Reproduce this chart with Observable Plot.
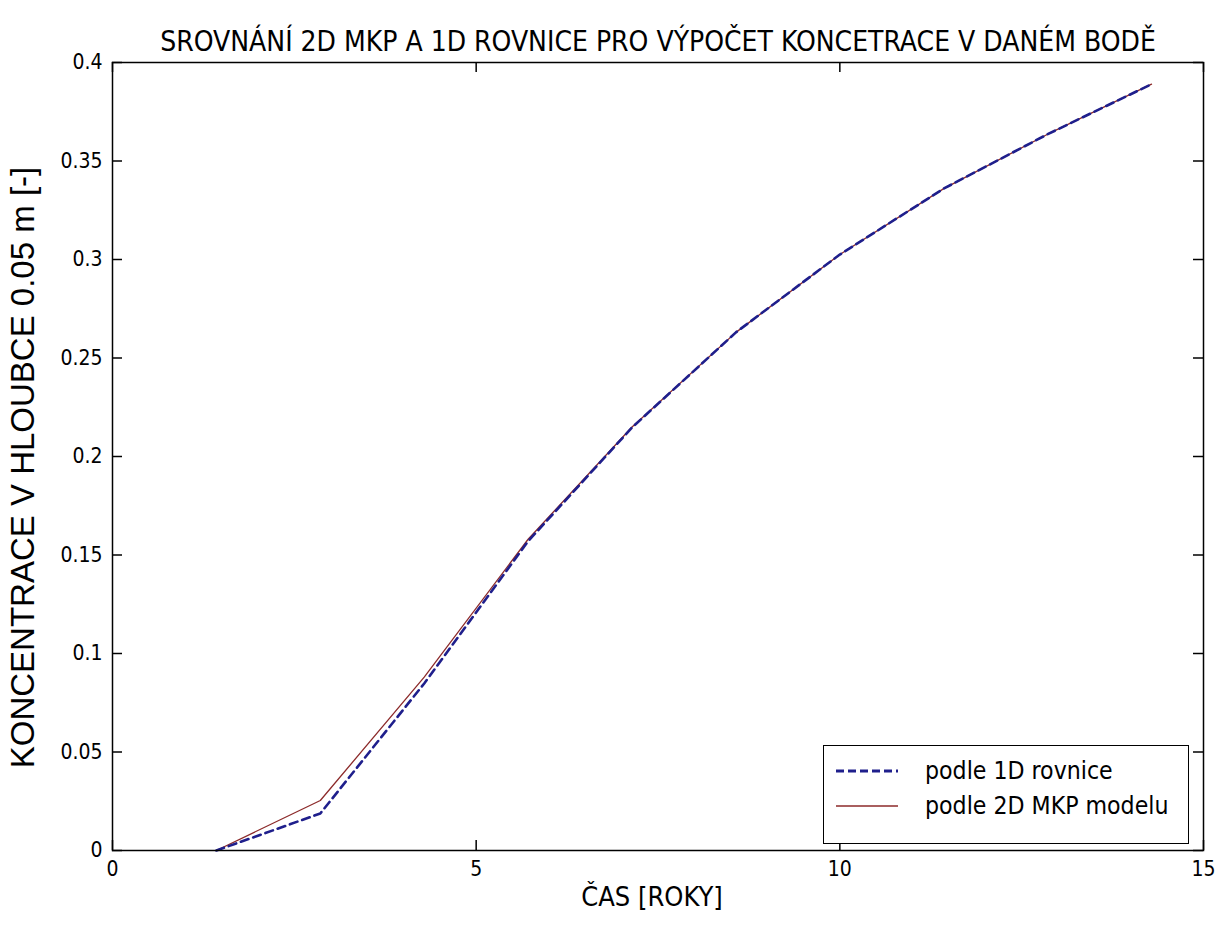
<!DOCTYPE html>
<html>
<head>
<meta charset="utf-8">
<script src="https://cdn.jsdelivr.net/npm/d3@7"></script>
<script src="https://cdn.jsdelivr.net/npm/@observablehq/plot@0.6"></script>
<style>
  html, body { margin: 0; padding: 0; background: #fff; }
  #wrap { position: relative; width: 1225px; height: 925px; }
  #legend { position: absolute; left: 823px; top: 745px; width: 366px; height: 99px;
            border: 1.5px solid #000; background: #fff; box-sizing: border-box; }
  #legend svg { display: block; }
</style>
</head>
<body>
<div id="wrap"></div>
<script>
const titleText = "SROVNÁNÍ 2D MKP A 1D ROVNICE PRO VÝPOČET KONCETRACE V DANÉM BODĚ";
const xLabel = "ČAS [ROKY]";
const yLabel = "KONCENTRACE V HLOUBCE 0.05 m [-]";
const seriesNames = ["podle 1D rovnice", "podle 2D MKP modelu"];
const seriesColors = ["#1f1f8c", "#8c2a2a"];

const time = [1.4286, 2.8571, 4.2857, 5.7143, 7.1429, 8.5714, 10.0, 11.4286, 12.8571, 14.2857];
const conc1D = [0, 0.0188, 0.0848, 0.157, 0.2147, 0.263, 0.3025, 0.336, 0.3636, 0.389];
const conc2D = [0, 0.0254, 0.088, 0.158, 0.215, 0.263, 0.3025, 0.336, 0.3636, 0.389];

const xTicks = [0, 5, 10, 15];
const yTicks = [0, 0.05, 0.1, 0.15, 0.2, 0.25, 0.3, 0.35, 0.4];

const d1 = time.map((t, i) => ({t, c: conc1D[i]}));
const d2 = time.map((t, i) => ({t, c: conc2D[i]}));

const NARROW = "'DejaVu Sans Condensed', 'Liberation Sans', Arial, sans-serif";
const WIDE = "'Liberation Sans', Arial, sans-serif";

const W = 1225, H = 925, ML = 112, MR = 22, MT = 62, MB = 75;
const fw = W - ML - MR, fh = H - MT - MB, tl = 10;

const chart = Plot.plot({
  width: W, height: H,
  marginLeft: ML, marginRight: MR, marginTop: MT, marginBottom: MB,
  style: { fontFamily: NARROW, fontSize: "20px", background: "#fff", color: "#000" },
  x: { domain: [0, 15] },
  y: { domain: [0, 0.4] },
  marks: [
    Plot.axisX(xTicks, { tickSize: 0, tickPadding: 11, label: null, fontSize: 21 }),
    Plot.axisY(yTicks, { tickSize: 0, tickPadding: 10, label: null, fontSize: 21, tickFormat: d => String(d) }),
    Plot.tickX(xTicks, { x: d => d, insetTop: fh - tl, stroke: "#000", strokeWidth: 1.5 }),
    Plot.tickX(xTicks, { x: d => d, insetBottom: fh - tl, stroke: "#000", strokeWidth: 1.5 }),
    Plot.tickY(yTicks, { y: d => d, insetRight: fw - tl, stroke: "#000", strokeWidth: 1.5 }),
    Plot.tickY(yTicks, { y: d => d, insetLeft: fw - tl, stroke: "#000", strokeWidth: 1.5 }),
    Plot.line(d2, { x: "t", y: "c", stroke: seriesColors[1], strokeWidth: 1.3 }),
    Plot.line(d1, { x: "t", y: "c", stroke: seriesColors[0], strokeWidth: 2.6, strokeDasharray: "8,5" }),
    Plot.frame({ stroke: "#000", strokeWidth: 1.5 }),
    Plot.text([titleText], { text: d => d, frameAnchor: "top", dy: -31, fontSize: 28, fill: "#000" }),
    Plot.text([xLabel], { text: d => d, frameAnchor: "bottom", dx: -6, dy: 55, fontSize: 27, fill: "#000" }),
    Plot.text([yLabel], { text: d => d, frameAnchor: "left", textAnchor: "middle", dx: -89, dy: 11, rotate: -90, fontSize: 33, fontFamily: WIDE, fill: "#000" })
  ]
});

const wrap = document.getElementById("wrap");
wrap.appendChild(chart);

// legend
const legend = document.createElement("div");
legend.id = "legend";
const ns = "http://www.w3.org/2000/svg";
const lsvg = document.createElementNS(ns, "svg");
lsvg.setAttribute("width", 363);
lsvg.setAttribute("height", 96);
seriesNames.forEach((name, i) => {
  const y = 25 + i * 35;
  const line = document.createElementNS(ns, "line");
  line.setAttribute("x1", 12); line.setAttribute("x2", 74);
  line.setAttribute("y1", y); line.setAttribute("y2", y);
  line.setAttribute("stroke", seriesColors[i]);
  line.setAttribute("stroke-width", i === 0 ? 3 : 1.3);
  if (i === 0) line.setAttribute("stroke-dasharray", "8,4");
  lsvg.appendChild(line);
  const tx = document.createElementNS(ns, "text");
  tx.setAttribute("x", 101); tx.setAttribute("y", y + 8);
  tx.setAttribute("font-family", NARROW);
  tx.setAttribute("font-size", 24.6);
  tx.textContent = name;
  lsvg.appendChild(tx);
});
legend.appendChild(lsvg);
wrap.appendChild(legend);
</script>
</body>
</html>
